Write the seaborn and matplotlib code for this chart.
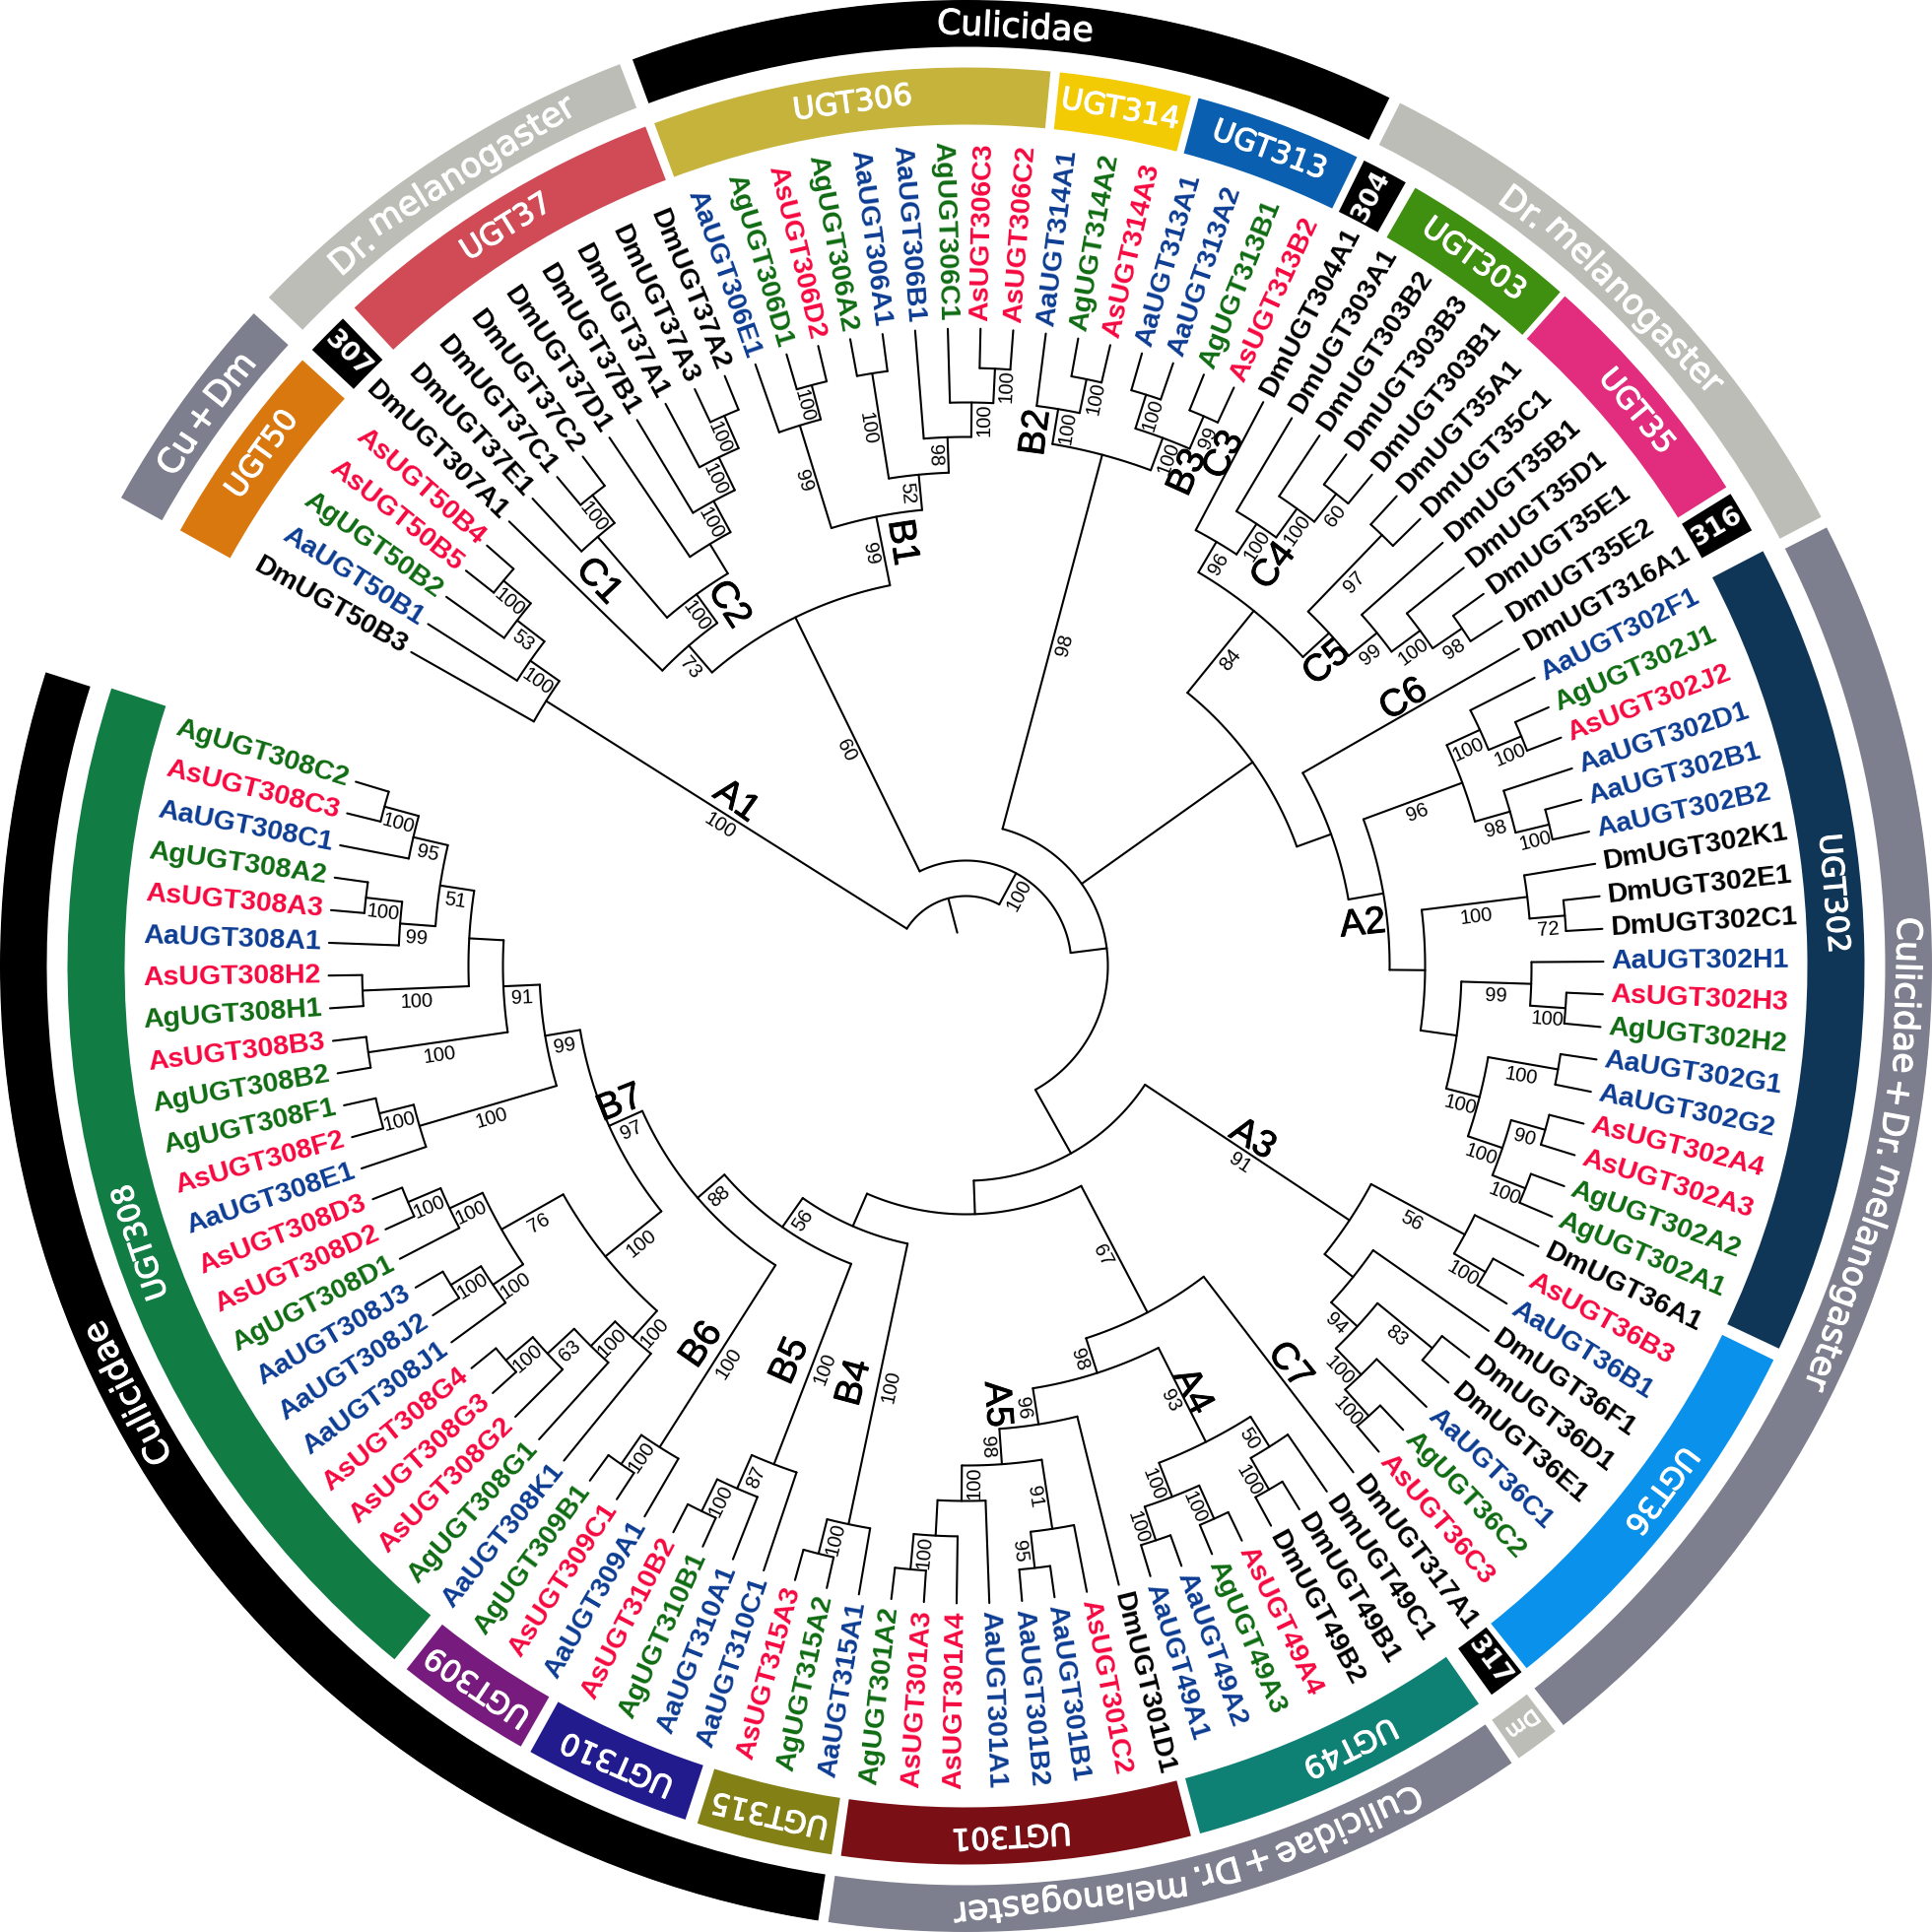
import numpy as np
import pandas as pd
import matplotlib
matplotlib.use("Agg")
import matplotlib.pyplot as plt
import matplotlib.patheffects as pe
from matplotlib.font_manager import FontProperties
from matplotlib.textpath import TextPath
import seaborn as sns

# ---- tree data: (node depth, bootstrap support, children in clockwise order) ----
CLADE_A1 = (504, 100, "DmUGT50B3", (540, 100, "AaUGT50B1", (575, 53, "AgUGT50B2", (611, 100, "AsUGT50B5", "AsUGT50B4"))))
CLADE_C = (394, 60,
           (430, 73, "DmUGT307A1",
            (466, 100,
             (574, None, "DmUGT37E1", (610, 100, "DmUGT37C1", "DmUGT37C2")),
             (501, None, "DmUGT37D1", (537, 100, "DmUGT37B1", (574, 100, "DmUGT37A1", (610, 100, "DmUGT37A3", "DmUGT37A2")))))),
           (465, 99,
            (574, 99, "AaUGT306E1", (610, 100, "AgUGT306D1", "AsUGT306D2")),
            (501, 52, (609, 100, "AgUGT306A2", "AaUGT306A1"),
             (537, 98, "AaUGT306B1", (572, 100, "AgUGT306C1", (607, 100, "AsUGT306C3", "AsUGT306C2"))))))
CLADE_B23 = (537, 98,
             (573, 100, "AaUGT314A1", (608, 100, "AgUGT314A2", "AsUGT314A3")),
             (572, 100, (608, 100, "AaUGT313A1", "AaUGT313A2"), (608, 99, "AgUGT313B1", "AsUGT313B2")))
CLADE_C45 = (464, 84,
             (500, 96, "DmUGT304A1", (537, 100, "DmUGT303A1", (573, 100, "DmUGT303B2", (609, 60, "DmUGT303B3", "DmUGT303B1")))),
             (500, None, (608, 97, "DmUGT35A1", "DmUGT35C1"),
              (537, 99, "DmUGT35B1", (573, 100, "DmUGT35D1", (609, 98, "DmUGT35E1", "DmUGT35E2")))))
CLADE_A2 = (430, None,
            (537, 96, (574, 100, "AaUGT302F1", (610, 100, "AgUGT302J1", "AsUGT302J2")),
             (574, 98, "AaUGT302D1", (609, 100, "AaUGT302B1", "AaUGT302B2"))),
            (466, None, (574, 100, "DmUGT302K1", (610, 72, "DmUGT302E1", "DmUGT302C1")),
             (503, None, (574, 99, "AaUGT302H1", (610, 100, "AsUGT302H3", "AgUGT302H2")),
              (538, 100, (610, 100, "AaUGT302G1", "AaUGT302G2"),
               (575, 100, (611, 90, "AsUGT302A4", "AsUGT302A3"), (611, 100, "AgUGT302A2", "AgUGT302A1"))))))
CLADE_MID = (357, None, CLADE_C45, (394, None, "DmUGT316A1", CLADE_A2))
CLADE_A3 = (467, 91, (575, 56, "DmUGT36A1", (612, 100, "AsUGT36B3", "AaUGT36B1")),
            (504, None, "DmUGT36F1",
             (540, 94, (612, 83, "DmUGT36D1", "DmUGT36E1"), (577, 100, "AaUGT36C1", (613, 100, "AgUGT36C2", "AsUGT36C3")))))
CLADE_A45 = (397, 67, "DmUGT317A1",
             (434, 98,
              (541, 93, (577, 50, "DmUGT49C1", (614, 100, "DmUGT49B1", "DmUGT49B2")),
               (578, 100, (615, 100, "AsUGT49A4", "AgUGT49A3"), (614, 100, "AaUGT49A2", "AaUGT49A1"))),
              (471, 96, "DmUGT301D1",
               (507, 98, (578, 91, "AsUGT301C2", (615, 95, "AaUGT301B1", "AaUGT301B2")),
                (543, 100, "AaUGT301A1", (579, None, "AsUGT301A4", (615, 100, "AsUGT301A3", "AgUGT301A2")))))))
CLADE_B4 = (579, 100, "AaUGT315A1", (615, 100, "AgUGT315A2", "AsUGT315A3"))
CLADE_B5 = (542, 100, "AaUGT310C1", (579, 87, "AaUGT310A1", (615, 100, "AgUGT310B1", "AsUGT310B2")))
CLADE_B6 = (579, 100, "AaUGT309A1", (615, 100, "AsUGT309C1", "AgUGT309B1"))
CLADE_B7 = (397, 97,
            (470, 100,
             (507, 100, "AaUGT308K1", (542, 100, "AgUGT308G1", (579, 63, "AsUGT308G2", (615, 100, "AsUGT308G3", "AsUGT308G4")))),
             (542, 76, (579, 100, "AaUGT308J1", (615, 100, "AaUGT308J2", "AaUGT308J3")),
              (579, 100, "AgUGT308D1", (615, 100, "AsUGT308D2", "AsUGT308D3")))),
            (433, 99, (578, 100, "AaUGT308E1", (614, 100, "AsUGT308F2", "AgUGT308F1")),
             (470, 91, (613, 100, "AgUGT308B2", "AsUGT308B3"),
              (505, None, (613, 100, "AgUGT308H1", "AsUGT308H2"),
               (540, 51, (576, 99, "AaUGT308A1", (613, 100, "AsUGT308A3", "AgUGT308A2")),
                (576, 95, "AaUGT308C1", (612, 100, "AsUGT308C3", "AgUGT308C2")))))))
CLADE_LOWER = (218, None, CLADE_A3,
               (252, None, CLADE_A45,
                (288, None, CLADE_B4, (324, 56, CLADE_B5, (360, 88, CLADE_B6, CLADE_B7)))))
TREE = (71, None, CLADE_A1, (107, 100, CLADE_C, (144, None, CLADE_B23, CLADE_MID, CLADE_LOWER)))

SPECIES_COLORS = {"Aa": "#0c3c92", "Ag": "#0f6b12", "As": "#f5083f", "Dm": "#000000"}

# clade tags: name, depth, angle
CLADE_NAMES = ["A1", "A2", "A3", "A4", "A5", "B1", "B2", "B3", "B4", "B5", "B6", "B7",
               "C1", "C2", "C3", "C4", "C5", "C6", "C7"]
CLADE_DEPTH = [287, 405, 340, 489, 446, 435, 546, 549, 438, 439, 469, 378,
               540, 439, 581, 512, 478, 520, 522]
CLADE_ANGLE = [144.4, 6, -31.2, -62, -86, 98.6, 82.5, 65.8, -105, -114, -124.9, -158.3,
               133.7, 123.3, 63.2, 52.4, 40, 31.3, -51]

# gene-family ring
FAMILY_NAMES = ["UGT50", "307", "UGT37", "UGT306", "UGT314", "UGT313", "304", "UGT303", "UGT35", "316",
                "UGT302", "UGT36", "317", "UGT49", "UGT301", "UGT315", "UGT310", "UGT309", "UGT308"]
FAMILY_START = [151.0, 136.7, 132.9, 110.3, 84.0, 75.0, 63.7, 60.0, 48.2, 31.7,
                27.5, -26.0, -51.8, -55.2, -75.5, -98.6, -108.2, -119.7, -129.5]
FAMILY_END = [137.6, 133.9, 110.9, 84.6, 75.5, 64.2, 60.7, 48.6, 32.2, 29.0,
              -25.2, -51.4, -54.2, -74.9, -98.0, -107.4, -119.0, -128.5, -198.0]
FAMILY_LABEL_ANGLE = [144.0, 135.3, 121.9, 97.5, 79.8, 69.6, 62.2, 54.3, 39.6, 30.3,
                      4.8, -37.0, -53.0, -63.8, -87.0, -103.0, -113.6, -124.1, -161.5]
FAMILY_COLORS = ["#d9780f", "#000000", "#d04b55", "#c6b33c", "#f2cb05", "#0b5fb0", "#000000", "#3f8f10",
                 "#e22c7d", "#000000", "#0f3557", "#0a91ec", "#000000", "#0f8074", "#7a1016", "#838016",
                 "#211b8e", "#771c7e", "#117c44"]

# taxon ring
TAXON_NAMES = ["Cu + Dm", "Dr. melanogaster", "Culicidae", "Dr. melanogaster",
               "Culicidae + Dr. melanogaster", "Dm", "Culicidae + Dr. melanogaster", "Culicidae"]
TAXON_START = [151.0, 136.2, 110.2, 63.3, 27.0, -52.4, -55.6, -98.8]
TAXON_END = [137.5, 111.0, 64.0, 27.7, -51.8, -55.1, -98.2, -197.7]
TAXON_LABEL_ANGLE = [144.0, 123.3, 87.0, 46.3, -11.8, -53.7, -76.0, -153.0]
TAXON_COLORS = ["#7e7f8e", "#bdbdb7", "#000000", "#bdbdb7", "#7e7f8e", "#bdbdb7", "#7e7f8e", "#000000"]

FIRST_TIP_ANGLE, LAST_TIP_ANGLE = 150.5, -196.8
TIP_DEPTH = 647
ROOT_STUB_DEPTH = 35

LEAF_FONT = "Liberation Sans"
RING_FONT = "DejaVu Sans"

sns.set_theme(style="white", rc={"axes.grid": False})
plt.rcParams["font.family"] = ["Liberation Sans", "DejaVu Sans"]


def leaves_of(node):
    if isinstance(node, str):
        return [node]
    out = []
    for kid in node[2:]:
        out += leaves_of(kid)
    return out


LEAVES = leaves_of(TREE)
tip_angles = dict(zip(LEAVES, np.linspace(FIRST_TIP_ANGLE, LAST_TIP_ANGLE, len(LEAVES))))

segments = []
stems = []


def add_seg(thetas, rs):
    sid = len(segments)
    segments.append(pd.DataFrame({"theta": np.radians(thetas), "r": rs, "seg": sid}))


def walk(node, parent_r):
    if isinstance(node, str):
        a = tip_angles[node]
        add_seg([a, a], [parent_r, TIP_DEPTH])
        return a
    r, sup = node[0], node[1]
    angles = [walk(k, r) for k in node[2:]]
    lo, hi = angles[0], angles[-1]
    mid = (lo + hi) / 2
    n = max(int(abs(hi - lo)) + 2, 2)
    arc = np.linspace(lo, hi, n)
    add_seg(arc, np.full(n, r))
    add_seg([mid, mid], [parent_r, r])
    if sup is not None:
        stems.append((mid, (parent_r + r) / 2, sup))
    return mid


walk(TREE, ROOT_STUB_DEPTH)
tree_df = pd.concat(segments, ignore_index=True)

fig = plt.figure(figsize=(19.61, 19.61), dpi=100, facecolor="white")
ax = fig.add_axes([0, 0, 1, 1], projection="polar")

sns.lineplot(data=tree_df, x="theta", y="r", units="seg", estimator=None, sort=False,
             color="black", linewidth=1.5, legend=False, ax=ax)
for ln in ax.get_lines():
    ln.set_solid_capstyle("round")
    ln.set_solid_joinstyle("round")


def upright(angle):
    a = (angle + 180) % 360 - 180
    if -90 <= a < 90:
        return a, "left"
    return a + 180, "right"


# tip labels
for name in LEAVES:
    a = tip_angles[name]
    rot, ha = upright(a)
    ax.text(np.radians(a), TIP_DEPTH + 8, name, rotation=rot, rotation_mode="anchor", ha=ha, va="center",
            fontsize=20.5, fontweight="bold", family=LEAF_FONT, color=SPECIES_COLORS[name[:2]])

# support labels: centred on the branch, just below it in the text's frame
for a, r, sup in stems:
    rot, _ = upright(a)
    below = np.radians(rot - 90)
    ax.annotate(str(sup), xy=(np.radians(a), r), xytext=(9.5 * np.cos(below), 9.5 * np.sin(below)),
                textcoords="offset points", rotation=rot, rotation_mode="anchor",
                ha="center", va="center", fontsize=14.5, family=LEAF_FONT, color="black")

# clade tags
for name, r, a in zip(CLADE_NAMES, CLADE_DEPTH, CLADE_ANGLE):
    rot, _ = upright(a)
    t = ax.text(np.radians(a), r, name, rotation=rot, rotation_mode="anchor", ha="center", va="center",
                fontsize=27.5, family=LEAF_FONT, color="black")
    t.set_path_effects([pe.withStroke(linewidth=0.7, foreground="black")])

# rings
FAM_R0, FAM_R1 = 854, 912
TAX_R0, TAX_R1 = 933, 981
for s, e, c in zip(FAMILY_START, FAMILY_END, FAMILY_COLORS):
    ax.bar(np.radians((s + e) / 2), FAM_R1 - FAM_R0, width=np.radians(abs(s - e)), bottom=FAM_R0,
           color=c, linewidth=0)
for s, e, c in zip(TAXON_START, TAXON_END, TAXON_COLORS):
    ax.bar(np.radians((s + e) / 2), TAX_R1 - TAX_R0, width=np.radians(abs(s - e)), bottom=TAX_R0,
           color=c, linewidth=0)


def ring_text(label, centre, radius, size, weight="normal"):
    """Set a ring label word by word so that it follows the band."""
    prop = FontProperties(family=RING_FONT, size=size, weight=weight)
    words = label.split(" ")
    widths = [TextPath((0, 0), w, prop=prop).get_extents().width * 100 / 72 for w in words]
    gap = size * 100 / 72 * 0.32
    total = sum(widths) + gap * (len(words) - 1)
    pos = -total / 2
    for w, wd in zip(words, widths):
        a = centre - np.degrees((pos + wd / 2) / radius)
        t = ax.text(np.radians(a), radius, w, rotation=a - 90, rotation_mode="anchor", ha="center", va="center",
                    fontproperties=prop, color="white")
        t.set_path_effects([pe.withStroke(linewidth=0.8, foreground="white")])
        pos += wd + gap


for name, a in zip(FAMILY_NAMES, FAMILY_LABEL_ANGLE):
    if len(name) == 3:
        rot, _ = upright(a)
        ax.text(np.radians(a), (FAM_R0 + FAM_R1) / 2, name, rotation=rot, rotation_mode="anchor",
                ha="center", va="center", color="white", fontsize=19, fontweight="bold", family=RING_FONT)
    else:
        ring_text(name, a, (FAM_R0 + FAM_R1) / 2, 22)
for name, a in zip(TAXON_NAMES, TAXON_LABEL_ANGLE):
    ring_text(name, a, (TAX_R0 + TAX_R1) / 2 - 3, 15 if name == "Dm" else 25)

ax.set_ylim(0, 980.5)
ax.set_axis_off()
fig.savefig("out.png", dpi=100, facecolor="white")
